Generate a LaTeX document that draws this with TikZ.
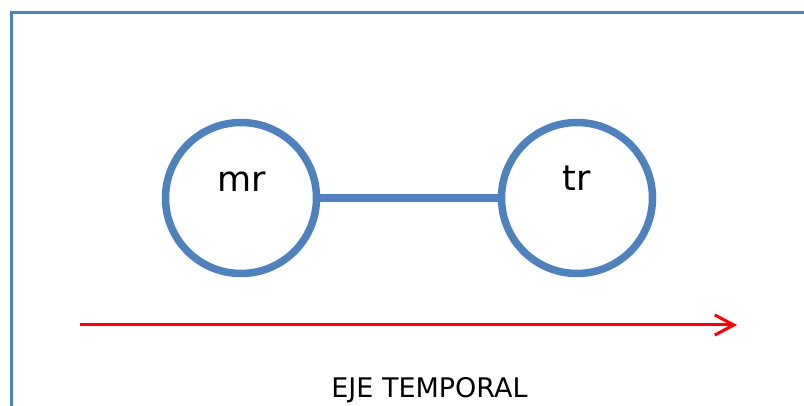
\documentclass[tikz,border=0pt]{standalone}
\usepackage{fontspec}
\setmainfont{DejaVu Sans}
\usetikzlibrary{arrows.meta}
\definecolor{ringblue}{HTML}{4F81BD}
\definecolor{axisred}{HTML}{FF0000}
\tikzset{
  ring/.style={circle, draw=ringblue, line width=7.5pt, minimum size=151pt, inner sep=0pt, fill=white},
  link/.style={draw=ringblue, line width=7.5pt},
  frameline/.style={draw=ringblue, line width=2.5pt},
  lbl/.style={inner sep=0pt, anchor=base, font=\fontsize{35}{40}\selectfont},
  axis/.style={draw=axisred, line width=3pt, -{Straight Barb[length=19pt, width=20pt, line width=3pt]}},
  caption/.style={inner sep=0pt, anchor=base, font=\fontsize{27}{32}\selectfont}
}
\begin{document}
\begin{tikzpicture}[x=1pt, y=-1pt]
  \useasboundingbox (0,0) rectangle (804,406);
  % outer frame (top and left edges)
  \draw[frameline] (11.5,406) -- (11.5,12.5) -- (804,12.5);
  % the two states and their link
  \node[ring] (mr) at (241,198) {};
  \node[ring] (tr) at (577,198) {};
  \draw[link] (mr) -- (tr);
  \node[lbl] (mrtext) at (242,192) {mr};
  \node[lbl] (trtext) at (577,191) {tr};
  % time axis
  \coordinate (t0) at (80,325);
  \coordinate (t1) at (737,325);
  \draw[axis] (t0) -- (t1);
  \node[caption] (axislabel) at (429.5,397) {EJE TEMPORAL};
\end{tikzpicture}
\end{document}
